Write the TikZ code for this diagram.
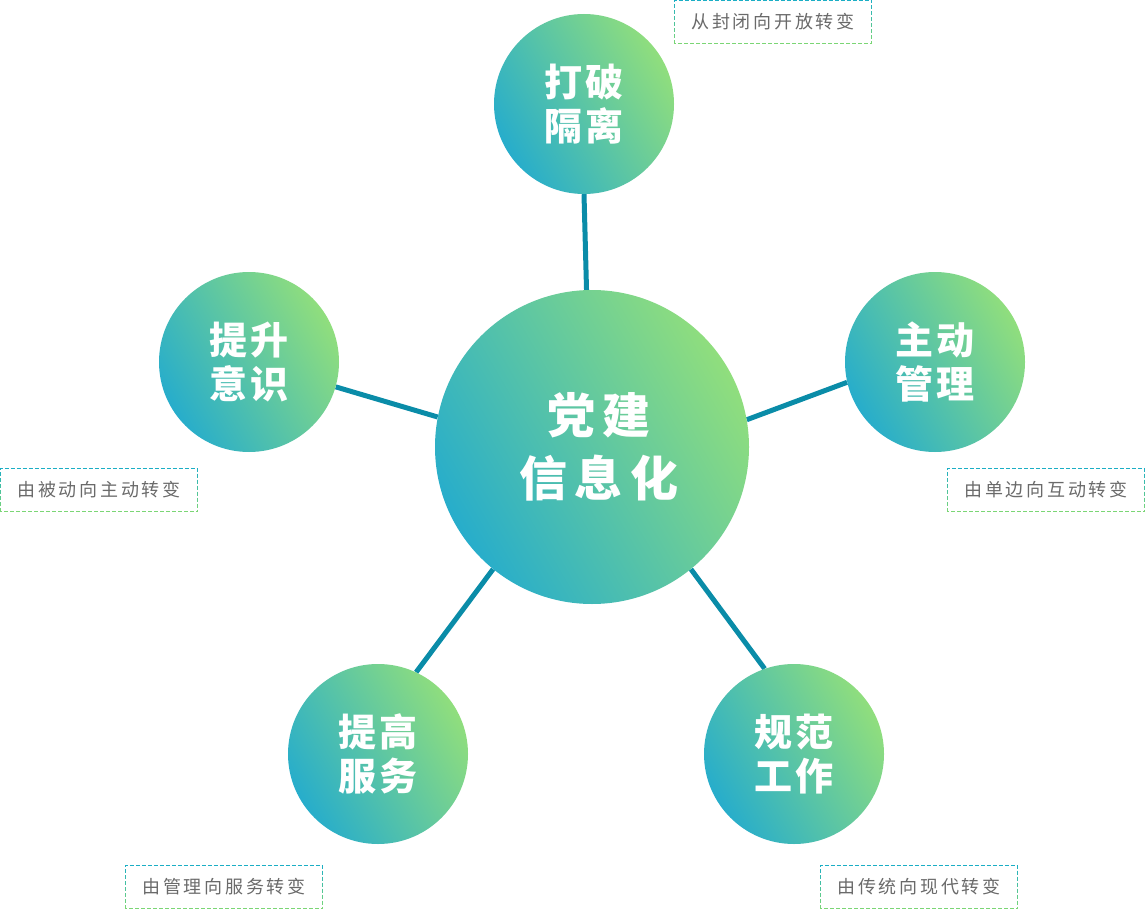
\documentclass[tikz,border=0pt]{standalone}
\usepackage{fontspec}
\usepackage{xcolor}
\usetikzlibrary{positioning}
\usetikzlibrary{fadings}
\usetikzlibrary{backgrounds}
\newfontfamily\cjk{Noto Sans CJK SC}
\definecolor{spokeTeal}{HTML}{0A8CA8}
\definecolor{ballBlue}{HTML}{27ADCB}
\definecolor{ballGreen}{HTML}{90DE7D}
\definecolor{noteGrey}{HTML}{6A6A6A}
\definecolor{noteTop}{HTML}{1BAEC6}
\definecolor{noteBottom}{HTML}{7ED873}
\tikzfading[name=noteFade, top color=transparent!0, bottom color=transparent!100]
\tikzset{
	ball/.style={circle, inner sep=0pt, minimum size=180pt, text=white, align=center,
		bottom color=ballBlue, top color=ballGreen, shading angle=-60,
		font=\cjk\bfseries\addfontfeature{LetterSpace=8}\fontsize{38}{44}\selectfont},
	hub/.style={ball, minimum size=314pt},
	hubtext/.style={text=white, align=center, inner sep=0pt,
		font=\cjk\bfseries\addfontfeature{LetterSpace=16}\fontsize{48}{63}\selectfont},
	note/.style={minimum width=197pt, minimum height=43pt, inner sep=0pt, text=noteGrey,
		font=\cjk\addfontfeature{LetterSpace=15}\fontsize{18}{22}\selectfont},
	notebox/.style={dash pattern=on 4pt off 2pt, line width=1pt},
	spoke/.style={spokeTeal, line width=5pt},
}

\begin{document}
\begin{tikzpicture}[x=1pt, y=-1pt]
	\useasboundingbox (0,0) rectangle (1145,909);
	% centre and the five balls
	\node[hub] (hub) at (592,447) {};
	\node[hubtext] (hublabel) at ([xshift=7pt]hub.center) {党建\\信息化};
	\node[ball] (open) at (584,104) {打破\\隔离};
	\node[ball] (aware) at (249,362) {提升\\意识};
	\node[ball] (active) at (935,362) {主动\\管理};
	\node[ball] (serve) at (378,754) {提高\\服务};
	\node[ball] (norm) at (794,754) {规范\\工作};
	% spokes behind the balls
	\begin{scope}[on background layer]
		\draw[spoke] (hub.92.6) -- (open.-90);
		\draw[spoke] (hub.169.4) -- (aware.-16.2);
		\draw[spoke] (hub.10.6) -- (active.193.6);
		\draw[spoke] (hub.231.2) -- (serve.65.7);
		\draw[spoke] (hub.-51.5) -- (norm.109.6);
	\end{scope}
	% notes
	\node[note] (noteopen) at (773,22) {从封闭向开放转变};
	\node[note] (noteaware) at (99,490) {由被动向主动转变};
	\node[note] (noteactive) at (1046,490) {由单边向互动转变};
	\node[note] (noteserve) at (224,887) {由管理向服务转变};
	\node[note] (notenorm) at (919,887) {由传统向现代转变};
	\foreach \n in {noteopen, noteaware, noteactive, noteserve, notenorm} {
		\draw[notebox, noteBottom] (\n.south west) rectangle (\n.north east);
		\draw[notebox, noteTop, path fading=noteFade] (\n.south west) rectangle (\n.north east);
	}
\end{tikzpicture}
\end{document}
